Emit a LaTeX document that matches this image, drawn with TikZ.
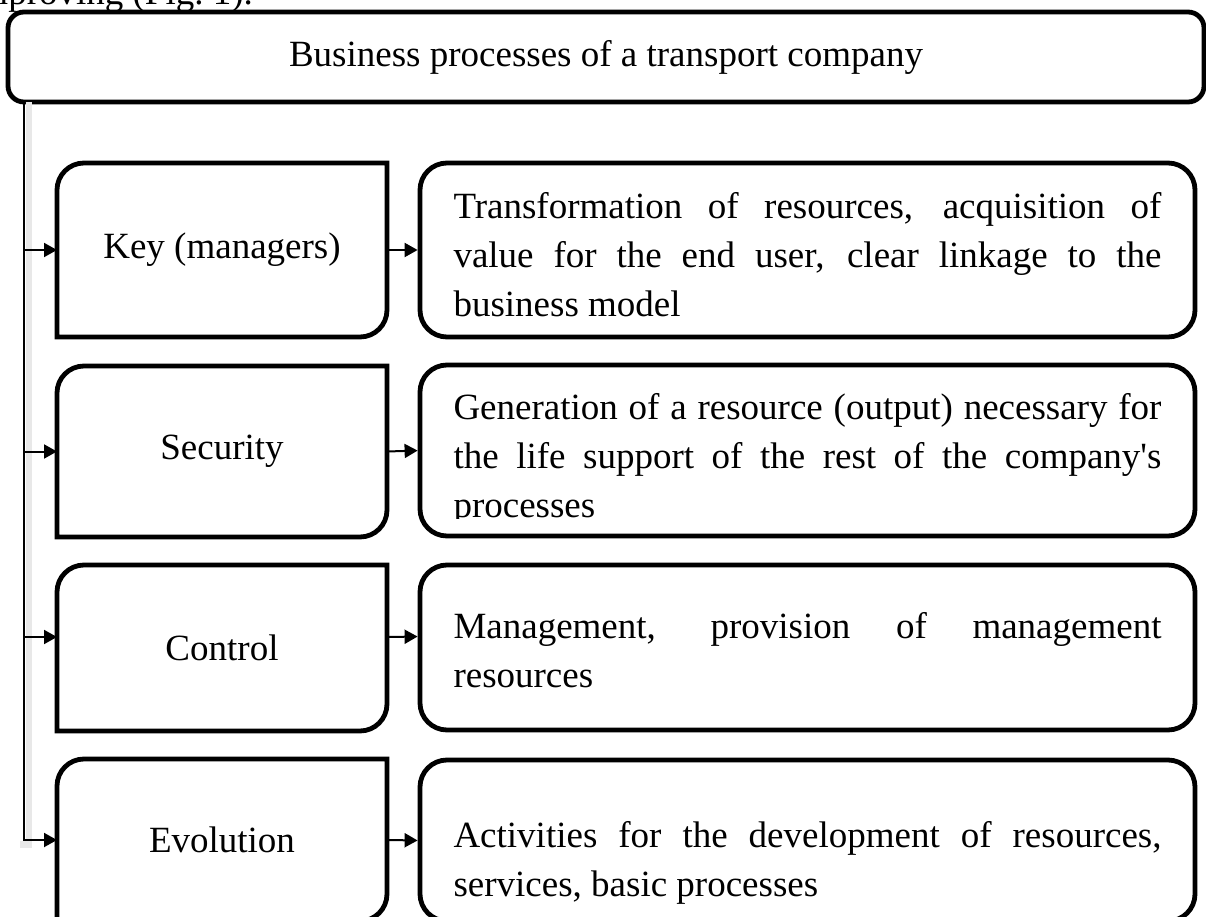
\documentclass[tikz,border=0pt]{standalone}
\usepackage{fontspec}
\setmainfont{Liberation Serif}
\usetikzlibrary{arrows.meta}

\newcommand{\boxfont}{\fontsize{37}{49}\selectfont\spaceskip=0.25em plus 2em minus 0.05em\tolerance=1000\hyphenpenalty=10000\exhyphenpenalty=10000}

\tikzset{
    boxline/.style={line width=4.8pt},
    lbox/.style={minimum width=330pt, inner sep=0pt, outer sep=0pt, font=\boxfont},
    rbox/.style={minimum width=775pt, text width=708pt, inner xsep=33.5pt, inner ysep=0pt, outer sep=0pt, align=justify, font=\boxfont},
    drop/.style={execute at begin node={\rule{0pt}{#1}}},
    link/.style={line width=2pt, -{Triangle[length=13pt,width=14pt]}},
    shadowgray/.style={fill=black!9}
}

\begin{document}
\begin{tikzpicture}[x=1pt,y=-1pt]
            \useasboundingbox (0,0) rectangle (1206,917);
            \clip (0,0) rectangle (1206,917);

            \node[font=\boxfont, anchor=base west, inner sep=0pt] (lead) at (-31,5) {improving (Fig.~1).};
            \node[draw, boxline, rounded corners=16pt, font=\boxfont, minimum width=1196pt, minimum height=90pt, inner sep=0pt, outer sep=0pt] (head) at (606,57) {Business processes of a transport company};

            % process groups
            \node[lbox, minimum height=174pt] (key) at (222,250) {Key (managers)};
            \node[lbox, minimum height=171pt] (sec) at (222,451.5) {Security};
            \node[lbox, minimum height=166pt] (ctl) at (222,648) {Control};
            \node[lbox, minimum height=162pt] (evo) at (222,840) {Evolution};

            % descriptions
            \node[rbox, drop=35pt, minimum height=174pt] (keyd) at (807.5,250) {Transformation of resources, acquisition of value for the end user, clear linkage to the business model};
            \begin{scope}
                \clip (400,355) rectangle (1206,518);
                \node[rbox, drop=43pt, minimum height=171pt] (secd) at (807.5,450.5) {Generation of a resource (output) necessary for the life support of the rest of the company\textquotesingle s processes};
            \end{scope}
            \node[rbox, drop=31pt, minimum height=165pt] (ctld) at (807.5,647.5) {Management, provision of management resources};
            \node[rbox, drop=71pt, minimum height=161pt] (evod) at (807.5,840.5) {Activities for the development of resources, services, basic processes};

            \foreach \n in {key,sec,ctl,evo}
            {
                    \draw[boxline] (\n.south west) -- ([yshift=-27pt]\n.north west) arc[start angle=180, end angle=90, radius=27pt]
                        -- (\n.north east) -- ([yshift=27pt]\n.south east) arc[start angle=0, end angle=-90, radius=27pt] -- cycle;
            }
            \foreach \n in {keyd,secd,ctld,evod}
                    \draw[boxline, rounded corners=27pt] (\n.south west) rectangle (\n.north east);

            % trunk with its shadow
            \coordinate (trunk) at ([xshift=16pt]head.south west);
            \fill[shadowgray] ([xshift=2pt]trunk) rectangle ([xshift=8pt,yshift=-8pt]trunk |- evo.west);
            \fill[shadowgray] ([xshift=-4pt,yshift=-1pt]trunk |- evo.west) rectangle ([xshift=8pt,yshift=-8pt]trunk |- evo.west);
            \draw[link] (trunk) -- (trunk |- evo.west) -- (evo.west);
            \foreach \n in {key,sec}
                    \draw[link] (trunk |- \n.west) -- (\n.west);
            \draw[link] ([yshift=11pt]trunk |- ctl.west) -- ([yshift=11pt]ctl.west);

            \foreach \n/\m in {key/keyd,sec/secd,evo/evod}
                    \draw[link, shorten >=2.4pt] (\n.east) -- (\m.west);
            \draw[link, shorten >=2.4pt] ([yshift=11pt]ctl.east) -- ([yshift=11pt]ctld.west);
\end{tikzpicture}
\end{document}
